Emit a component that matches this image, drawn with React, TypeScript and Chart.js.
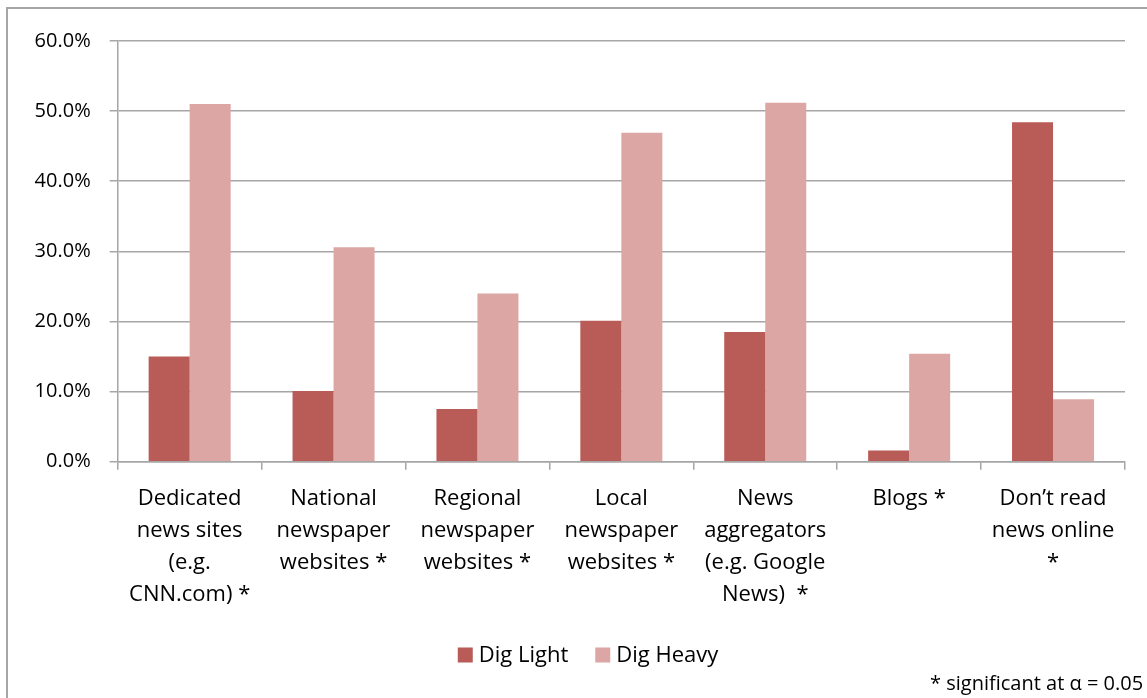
import React, { useEffect, useRef } from "react";
import { Chart, registerables } from "chart.js";

Chart.register(...registerables);

// Share of respondents (%) using each online news source
const categories: string[][] = [
  ["Dedicated", "news sites", "(e.g.", "CNN.com) *"],
  ["National", "newspaper", "websites *"],
  ["Regional", "newspaper", "websites *"],
  ["Local", "newspaper", "websites *"],
  ["News", "aggregators", "(e.g. Google", "News)  *"],
  ["Blogs *"],
  ["Don\u2019t read", "news online", "*"],
];

const digLight: number[] = [15.0, 10.1, 7.5, 20.1, 18.5, 1.6, 48.4];
const digHeavy: number[] = [51.0, 30.6, 24.0, 46.9, 51.2, 15.4, 8.9];

const seriesNames: string[] = ["Dig Light", "Dig Heavy"];
const seriesColors: string[] = ["#B95B56", "#DBA6A3"];

const yTicks: number[] = [0, 10, 20, 30, 40, 50, 60];
const footnote = "* significant at \u03b1 = 0.05";

const FONT = "'Open Sans', 'DejaVu Sans', sans-serif";

// Legend and footnote drawn under the plot area
const legendPlugin = {
  id: "bottomLegend",
  afterDraw(chart: any) {
    const ctx = chart.ctx as CanvasRenderingContext2D;
    ctx.save();
    ctx.font = `22px ${FONT}`;
    ctx.textBaseline = "middle";
    ctx.textAlign = "left";
    ctx.fillStyle = "#000";
    const box = 15;
    const gap = 6;
    const itemGap = 27;
    const widths = chart.data.datasets.map(
      (d: any) => box + gap + ctx.measureText(d.label).width
    );
    const total = widths.reduce((a: number, b: number) => a + b, 0) + itemGap * (widths.length - 1);
    let x = chart.width / 2 - total / 2;
    const y = 646;
    chart.data.datasets.forEach((d: any, i: number) => {
      ctx.fillStyle = d.backgroundColor;
      ctx.fillRect(x, y - box / 2, box, box);
      ctx.fillStyle = "#000";
      ctx.fillText(d.label, x + box + gap, y + 1);
      x += widths[i] + itemGap;
    });
    ctx.font = `20px ${FONT}`;
    ctx.fillText(footnote, 922, 675);
    ctx.restore();
  },
};

export default function App() {
  const canvasRef = useRef<HTMLCanvasElement | null>(null);

  useEffect(() => {
    if (!canvasRef.current) return;
    const chart = new Chart(canvasRef.current, {
      type: "bar",
      data: {
        labels: categories,
        datasets: [
          {
            label: seriesNames[0],
            data: digLight,
            backgroundColor: seriesColors[0],
            categoryPercentage: 0.57,
            barPercentage: 1.0,
          },
          {
            label: seriesNames[1],
            data: digHeavy,
            backgroundColor: seriesColors[1],
            categoryPercentage: 0.57,
            barPercentage: 1.0,
          },
        ],
      },
      options: {
        animation: false,
        responsive: true,
        maintainAspectRatio: false,
        layout: { padding: { top: 32, right: 43, bottom: 0, left: 0 } },
        plugins: {
          legend: { display: false },
          tooltip: { enabled: false },
          title: { display: false },
        },
        scales: {
          x: {
            offset: true,
            grid: {
              display: true,
              offset: true,
              drawOnChartArea: false,
              drawTicks: true,
              tickLength: 8,
              color: "#A6A6A6",
              lineWidth: 1.5,
            },
            border: { display: true, color: "#A6A6A6", width: 1.5 },
            ticks: {
              autoSkip: false,
              maxRotation: 0,
              minRotation: 0,
              padding: 13,
              color: "#000",
              font: { family: FONT, size: 22, lineHeight: 32 / 22 },
            },
            afterFit(scale: any) {
              scale.height = 247.3;
            },
          },
          y: {
            min: 0,
            max: 60,
            afterBuildTicks(scale: any) {
              scale.ticks = yTicks.map((v) => ({ value: v }));
            },
            grid: {
              color: "#A6A6A6",
              lineWidth: 1.5,
              tickLength: 8,
              drawTicks: true,
            },
            border: { display: true, color: "#A6A6A6", width: 1.5 },
            ticks: {
              padding: 19,
              color: "#000",
              font: { family: FONT, size: 20 },
              callback: (v: any) => Number(v).toFixed(1) + "%",
            },
            afterFit(scale: any) {
              scale.width = 109.7;
            },
          },
        },
      },
      plugins: [legendPlugin],
    });
    return () => chart.destroy();
  }, []);

  return (
    <div
      style={{
        position: "absolute",
        left: 6,
        top: 7,
        width: 1200,
        height: 720,
        border: "2px solid #A6A6A6",
        background: "#fff",
      }}
    >
      <div style={{ position: "relative", width: 1160, height: 700 }}>
        <canvas ref={canvasRef} />
      </div>
    </div>
  );
}
